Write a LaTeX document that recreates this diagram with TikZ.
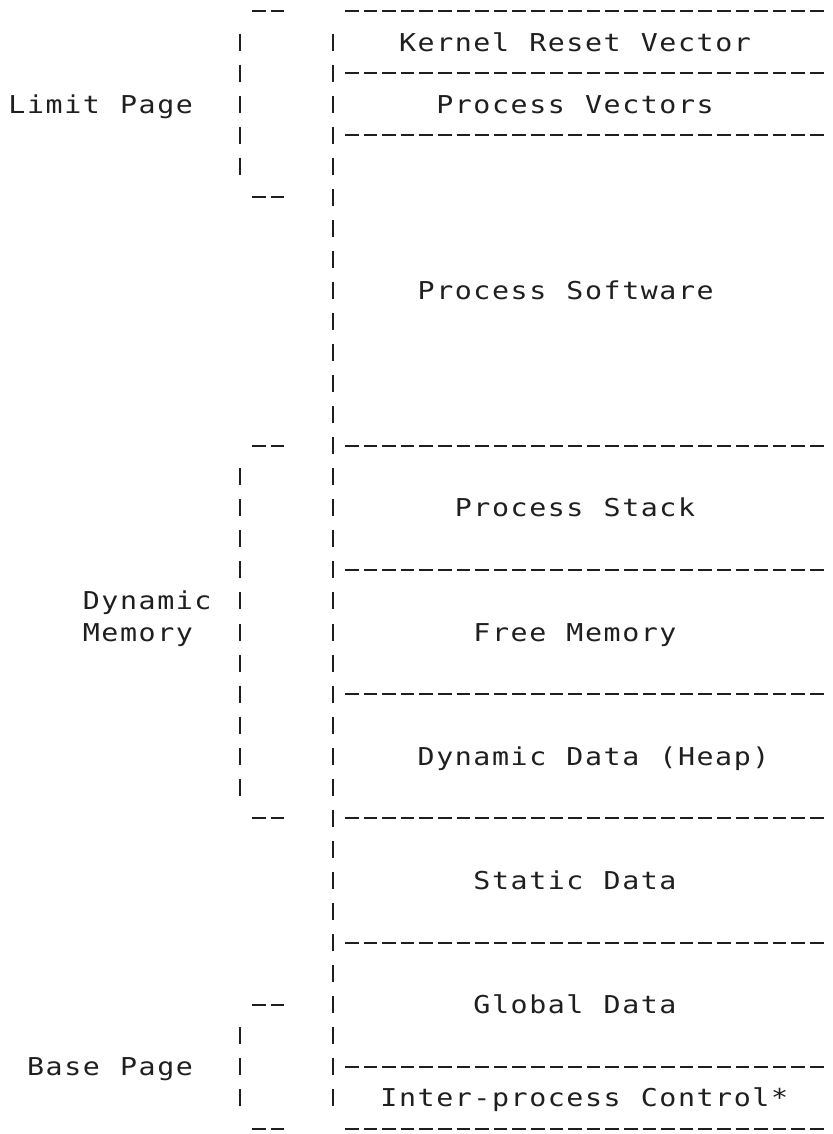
\documentclass[tikz,border=0pt]{standalone}
\usepackage{fontspec}
\newfontfamily\dotfont[FakeStretch=1.15]{DejaVu Sans Mono}
\definecolor{ink}{gray}{0.12}

% Printer-style text: every character sits in its own fixed cell
\newcommand\cellw{9.3pt}
\def\cells#1{\cellsaux#1\relax}
\def\cellsaux#1{\ifx#1\relax\else\makebox[\cellw][c]{#1}\expandafter\cellsaux\fi}

\begin{document}
\begin{tikzpicture}[x=0.5pt,y=-0.5pt,
  declare function={cx(\c)=17+18.6*\c; ry(\r)=11+31.05*\r;},
  rule/.style={line width=1pt, draw=ink},
  hrule/.style={rule, dash pattern=on 6.75pt off 2.55pt},
  vrule/.style={rule, dash pattern=on 8.5pt off 7.025pt},
  lbl/.style={anchor=base west, inner sep=0pt, outer sep=0pt, text=ink,
              font=\dotfont\fontsize{12.3pt}{14pt}\selectfont}]

\fill[white] (0,0) rectangle (833,1134);
\useasboundingbox (0,0) rectangle (833,1134);

% horizontal rules of the memory map (columns 18 to 43)
\foreach \r in {0,2,4,14,18,22,26,30,34,36}
  \draw[hrule] ({cx(18)-6.75},{ry(\r)}) -- ({cx(43)+6.75},{ry(\r)});

% short "--" ends of the brackets (columns 13 and 14)
\foreach \r in {0,6,14,26,32,36}
  \draw[hrule] ({cx(13)-6.75},{ry(\r)}) -- ({cx(14)+6.75},{ry(\r)});

% left side of the memory map (column 17)
\draw[vrule] ({cx(17)},{ry(1)-8.5}) -- ({cx(17)},{ry(35)+8.5});

% bracket bars (column 12)
\draw[vrule] ({cx(12)},{ry(1)-8.5}) -- ({cx(12)},{ry(5)+8.5});
\draw[vrule] ({cx(12)},{ry(15)-8.5}) -- ({cx(12)},{ry(25)+8.5});
\draw[vrule] ({cx(12)},{ry(33)-8.5}) -- ({cx(12)},{ry(35)+8.5});

% region names
\node[lbl] (kernel) at ({cx(21)-9.3},{ry(1)+9})  {\cells{Kernel~Reset~Vector}};
\node[lbl] (pvec)   at ({cx(23)-9.3},{ry(3)+9})  {\cells{Process~Vectors}};
\node[lbl] (psoft)  at ({cx(22)-9.3},{ry(9)+9})  {\cells{Process~Software}};
\node[lbl] (pstack) at ({cx(24)-9.3},{ry(16)+9}) {\cells{Process~Stack}};
\node[lbl] (free)   at ({cx(25)-9.3},{ry(20)+9}) {\cells{Free~Memory}};
\node[lbl] (heap)   at ({cx(22)-9.3},{ry(24)+9}) {\cells{Dynamic~Data~(Heap)}};
\node[lbl] (sdata)  at ({cx(25)-9.3},{ry(28)+9}) {\cells{Static~Data}};
\node[lbl] (gdata)  at ({cx(25)-9.3},{ry(32)+9}) {\cells{Global~Data}};
\node[lbl] (ipc)    at ({cx(20)-9.3},{ry(35)+9}) {\cells{Inter-process~Control*}};

% bracket labels
\node[lbl] (limit) at ({cx(0)-9.3},{ry(3)+9})  {\cells{Limit~Page}};
\node[lbl] (dyn)   at ({cx(4)-9.3},{ry(19)+9}) {\cells{Dynamic}};
\node[lbl] (mem)   at ({cx(4)-9.3},{ry(20)+9}) {\cells{Memory}};
\node[lbl] (base)  at ({cx(1)-9.3},{ry(34)+9}) {\cells{Base~Page}};
\end{tikzpicture}
\end{document}
